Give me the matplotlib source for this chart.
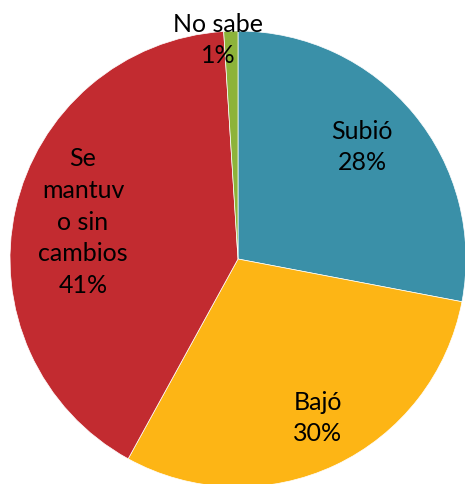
import matplotlib
matplotlib.use("Agg")
import matplotlib.pyplot as plt

labels = ["Subió", "Bajó", "Se\nmantuv\no sin\ncambios", "No sabe"]
values = [28, 30, 41, 1]
colors = ["#3A90A8", "#FDB515", "#C22B30", "#8DB33A"]
labelPos = [(362, 338), (318, 67), (83, 263), (218, 445)]

plt.rcParams["font.family"] = ["Lato", "DejaVu Sans"]

fig = plt.figure(figsize=(4.65, 4.85), dpi=100)
ax = fig.add_axes([0, 0, 1, 1])

wedges, _ = ax.pie(values, colors=colors, startangle=90, counterclock=False,
                   center=(238, 225), radius=228,
                   wedgeprops=dict(edgecolor="white", linewidth=0.5))

for label, value, (x, y) in zip(labels, values, labelPos):
    ax.text(x, y, f"{label}\n{value}%", ha="center", va="center",
            fontsize=18, linespacing=1.45, color="black")

ax.set_xlim(0, 465)
ax.set_ylim(0, 485)
ax.set_aspect("equal")
ax.axis("off")

plt.savefig("out.png", dpi=100)
